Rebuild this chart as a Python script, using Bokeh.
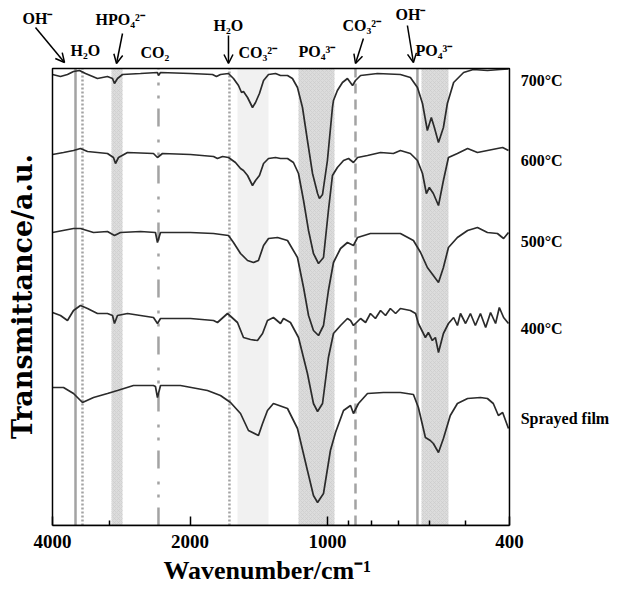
from math import pi
from bokeh.plotting import figure
from bokeh.core.properties import value
from bokeh.models import (Range1d, FixedTicker, PrintfTickFormatter, BoxAnnotation,
                          Arrow, OpenHead, Title)
from bokeh.embed import file_html
from bokeh.resources import INLINE

# ---------------- data (wavenumber cm-1, transmittance a.u.) ----------------
spec_700 = [(4000, 90.2), (3842, 89.8), (3709, 90.2), (3598, 90.8), (3491, 91.0),
            (3387, 90.4), (3189, 89.4), (3032, 89.8), (2956, 89.4), (2927, 88.4),
            (2883, 89.4), (2811, 90.2), (2567, 90.4), (2357, 90.6), (2345, 90.0),
            (2321, 90.6), (1996, 90.4), (1786, 90.2), (1751, 89.8), (1716, 90.2),
            (1648, 90.4), (1607, 89.4), (1567, 88.0), (1543, 86.6), (1528, 86.8),
            (1497, 85.6), (1460, 83.6), (1438, 84.6), (1410, 86.4), (1381, 89.0),
            (1347, 90.2), (1300, 90.4), (1268, 90.0), (1224, 90.0), (1194, 89.4),
            (1164, 87.6), (1135, 83.6), (1107, 77.0), (1079, 70.4), (1052, 66.4),
            (1042, 65.4), (1026, 66.2), (1001, 73.0), (976, 83.6), (971, 85.0),
            (952, 87.0), (928, 88.6), (905, 89.4), (882, 88.0), (869, 89.0),
            (847, 90.0), (778, 90.4), (693, 90.2), (659, 89.6), (636, 87.6),
            (620, 84.4), (605, 79.0), (593, 81.6), (584, 79.6), (572, 76.6),
            (558, 79.6), (547, 84.4), (530, 88.6), (504, 90.6), (480, 91.2),
            (447, 91.0), (419, 91.2), (402, 91.3)]

spec_600 = [(4000, 74.2), (3784, 74.6), (3598, 75.0), (3474, 75.4), (3353, 74.8),
            (3032, 74.4), (2942, 73.6), (2912, 72.4), (2868, 73.6), (2741, 74.6),
            (2405, 74.4), (2357, 73.6), (2298, 74.4), (1996, 74.2), (1777, 73.8),
            (1742, 73.4), (1698, 73.8), (1648, 73.6), (1591, 72.6), (1551, 71.4),
            (1528, 71.0), (1497, 70.0), (1460, 68.0), (1438, 69.0), (1410, 70.0),
            (1381, 72.4), (1347, 73.4), (1300, 73.6), (1268, 73.4), (1224, 73.4),
            (1188, 72.6), (1158, 70.4), (1129, 65.0), (1101, 59.0), (1074, 54.4),
            (1047, 52.4), (1021, 53.6), (996, 63.0), (976, 70.0), (952, 71.6),
            (923, 73.0), (900, 73.4), (878, 72.6), (860, 73.6), (818, 74.0),
            (766, 74.6), (718, 74.4), (693, 75.0), (659, 74.4), (636, 73.0),
            (620, 70.4), (608, 66.4), (599, 67.6), (587, 66.4), (572, 64.0),
            (558, 69.0), (544, 73.6), (520, 74.4), (494, 75.4), (470, 74.6),
            (447, 75.0), (425, 75.4), (414, 75.6), (402, 75.0)]

spec_500 = [(4000, 58.6), (3598, 59.4), (3474, 59.4), (3253, 58.6), (3032, 58.8),
            (2927, 58.0), (2840, 58.6), (2567, 58.8), (2381, 58.6), (2357, 56.6),
            (2321, 58.6), (1996, 58.6), (1777, 58.4), (1648, 58.0), (1607, 56.6),
            (1551, 54.4), (1497, 53.0), (1453, 52.6), (1417, 53.0), (1381, 56.0),
            (1347, 57.4), (1287, 57.6), (1224, 57.0), (1164, 53.6), (1129, 47.6),
            (1101, 42.0), (1074, 39.0), (1047, 38.0), (1021, 40.0), (996, 47.0),
            (971, 52.6), (937, 55.4), (905, 56.6), (878, 56.0), (860, 57.6),
            (806, 58.4), (755, 58.4), (710, 58.4), (693, 58.4), (649, 57.0),
            (626, 54.6), (605, 51.6), (587, 50.0), (572, 48.6), (558, 51.6),
            (544, 55.6), (520, 57.6), (494, 59.0), (470, 59.6), (447, 58.6),
            (425, 58.4), (412, 57.4), (402, 58.6)]

spec_400 = [(4000, 42.6), (3842, 42.0), (3709, 41.0), (3598, 43.0), (3474, 44.0),
            (3353, 43.4), (3189, 42.4), (3032, 42.4), (2956, 42.0), (2927, 40.4),
            (2883, 42.0), (2741, 42.4), (2405, 41.6), (2357, 40.4), (2321, 41.4),
            (1996, 41.4), (1777, 41.0), (1742, 40.6), (1656, 42.4), (1575, 40.6),
            (1528, 37.6), (1475, 37.2), (1424, 37.0), (1388, 38.4), (1354, 41.0),
            (1314, 41.6), (1268, 40.4), (1249, 41.4), (1206, 40.6), (1158, 37.6),
            (1107, 30.4), (1074, 24.4), (1052, 22.8), (1026, 24.4), (996, 33.6),
            (971, 38.4), (937, 40.0), (905, 41.4), (891, 41.0), (878, 40.0),
            (847, 41.4), (826, 40.6), (806, 42.4), (786, 41.4), (766, 43.0),
            (747, 42.0), (729, 43.4), (710, 42.4), (693, 43.4), (659, 43.0),
            (642, 42.4), (633, 40.4), (611, 37.6), (602, 38.6), (590, 37.0),
            (581, 37.6), (572, 34.6), (558, 38.4), (544, 40.4), (530, 41.6),
            (520, 40.0), (512, 42.4), (499, 40.4), (487, 42.4), (475, 40.0),
            (463, 42.4), (451, 39.6), (440, 42.6), (429, 40.4), (421, 43.6),
            (412, 41.6), (402, 40.4)]

spec_sprayed = [(4000, 27.6), (3784, 27.6), (3598, 26.4), (3439, 24.6), (3253, 25.6),
                (3032, 26.4), (2883, 27.0), (2660, 28.0), (2405, 28.0), (2381, 27.8),
                (2357, 25.6), (2321, 28.0), (2099, 28.0), (1832, 27.0), (1716, 26.0),
                (1631, 24.6), (1551, 22.4), (1490, 19.0), (1417, 18.0), (1388, 20.4),
                (1354, 23.0), (1314, 24.4), (1224, 23.4), (1164, 19.4), (1107, 11.0),
                (1074, 6.0), (1052, 4.6), (1021, 6.4), (986, 15.0), (961, 18.6),
                (923, 23.0), (891, 24.0), (878, 22.4), (856, 24.4), (818, 26.4),
                (755, 26.6), (693, 26.6), (649, 26.2), (633, 23.6), (611, 17.6),
                (596, 17.0), (587, 16.4), (572, 14.6), (558, 17.4), (539, 22.0),
                (520, 24.4), (494, 25.4), (463, 25.6), (447, 25.4), (434, 24.4),
                (423, 22.0), (414, 22.6), (402, 19.4)]

series_names = ["700°C", "600°C", "500°C", "400°C", "Sprayed film"]
series_data = [spec_700, spec_600, spec_500, spec_400, spec_sprayed]

# assignment bands (wavenumber ranges) and marker lines
bands_dark = [(2971, 2811), (1158, 966), (623, 544)]   # HPO4 2-, PO4 3-, PO4 3-
bands_light = [(1575, 1347)]                          # CO3 2-
line_solid = [3562, 636]        # OH-
line_dotted = [3439, 1640]      # H2O
line_dashdot = [2345]           # CO2
line_dashed = [869]             # CO3 2-

tick_values = [4000, 2000, 1000, 400]
minor_tick_values = [3000, 900, 800, 700, 600, 500]
x_lo, x_hi = 400, 4000          # plotted wavenumber span
t_lo, t_hi = 0.0, 91.4          # plotted transmittance span (a.u.)

SERIF = "Liberation Serif"

# ---------------- figure ----------------
p = figure(width=617, height=595, x_axis_type="log",
           x_range=Range1d(5198, 232.1), y_range=Range1d(0, 105),
           output_backend="svg", toolbar_location=None, title=None,
           min_border_left=0, min_border_right=0, min_border_top=0,
           min_border_bottom=70)
p.grid.visible = False
p.yaxis.visible = False
p.outline_line_color = None
p.background_fill_color = "white"
p.border_fill_color = "white"

ax = p.xaxis[0]
ax.bounds = (x_lo, x_hi)
ax.ticker = FixedTicker(ticks=tick_values, minor_ticks=minor_tick_values)
ax.formatter = PrintfTickFormatter(format="%d")
ax.major_tick_in = 9
ax.major_tick_out = 0
ax.minor_tick_in = 5
ax.minor_tick_out = 0
ax.major_tick_line_width = 1.5
ax.minor_tick_line_width = 1.5
ax.axis_line_width = 1.5
ax.major_label_text_font = SERIF
ax.major_label_text_font_style = "bold"
ax.major_label_text_font_size = "19px"
ax.major_label_text_color = "black"
ax.major_label_standoff = 9

p.add_layout(Title(text="Wavenumber/cm⁻¹", align="left", offset=163,
                   text_font=SERIF, text_font_style="bold", text_font_size="26px",
                   text_color="black", standoff=7), "below")

# bands
for lo, hi in bands_dark:
    p.add_layout(BoxAnnotation(left=lo, right=hi, bottom=t_lo, top=t_hi,
                               fill_color="#dcdcdc", fill_alpha=1.0, line_alpha=0,
                               hatch_pattern="diagonal_cross", hatch_color="#c9c9c9",
                               hatch_scale=4, hatch_alpha=0.6, level="underlay"))
for lo, hi in bands_light:
    p.add_layout(BoxAnnotation(left=lo, right=hi, bottom=t_lo, top=t_hi,
                               fill_color="#f1f1f1", fill_alpha=1.0, line_alpha=0,
                               level="underlay"))

# marker lines
def vlines(locs, **kw):
    p.segment(x0=locs, y0=[t_lo] * len(locs), x1=locs, y1=[t_hi] * len(locs),
              line_color="#a3a3a3", line_width=2.5, **kw)

vlines(line_solid)
vlines(line_dotted, line_dash="2 2")
vlines(line_dashdot, line_dash="18 10 3 10 3 13")
vlines(line_dashed, line_dash="10 6")

# spectra
for spec in series_data:
    wn = [a for a, b in spec]
    tr = [b for a, b in spec]
    p.line(wn, tr, line_color="#2b2b2b", line_width=1.7)

# plot box
p.quad(left=[x_hi], right=[x_lo], bottom=[t_lo], top=[t_hi], fill_color=None,
       line_color="black", line_width=1.5)

# sample labels on the right
label_y = [89.0, 73.0, 56.8, 39.4, 21.4]
p.text(x=[378] * 5, y=label_y, text=series_names, text_align="left",
       text_baseline="middle", text_font=value(SERIF), text_font_style="bold",
       text_font_size="16px", text_color="black")

# band assignments above the box
top_text = ["OH⁻", "H₂O", "HPO₄²⁻", "CO₂", "H₂O", "CO₃²⁻", "PO₄³⁻", "CO₃²⁻", "OH⁻", "PO₄³⁻"]
top_x = [4653, 3653, 3221, 2567, 1777, 1567, 1158, 928, 710, 642]
top_y = [101.5, 95.0, 101.2, 94.7, 100.1, 94.7, 94.9, 100.0, 102.3, 95.0]
p.text(x=top_x, y=top_y, text=top_text, text_align="left", text_baseline="middle",
       text_font=value(SERIF), text_font_style="bold", text_font_size="16px",
       text_color="black")

arrows = [(4358, 99.6, 3765, 92.6), (2811, 98.4, 2897, 92.4), (1648, 98.0, 1648, 92.4),
          (835, 97.4, 869, 92.4), (669, 100.0, 649, 92.6)]
for x0, y0, x1, y1 in arrows:
    p.add_layout(Arrow(x_start=x0, y_start=y0, x_end=x1, y_end=y1, line_width=1.5,
                       line_color="black",
                       end=OpenHead(size=9, line_width=1.5, line_color="black")))

# y axis title
p.text(x=[4653], y=[45.8], text=["Transmittance/a.u."], angle=pi / 2,
       text_align="center", text_baseline="middle", text_font=value("DejaVu Serif"),
       text_font_style="bold", text_font_size="27px", text_color="black")

open("out.html", "w").write(file_html(p, INLINE))
